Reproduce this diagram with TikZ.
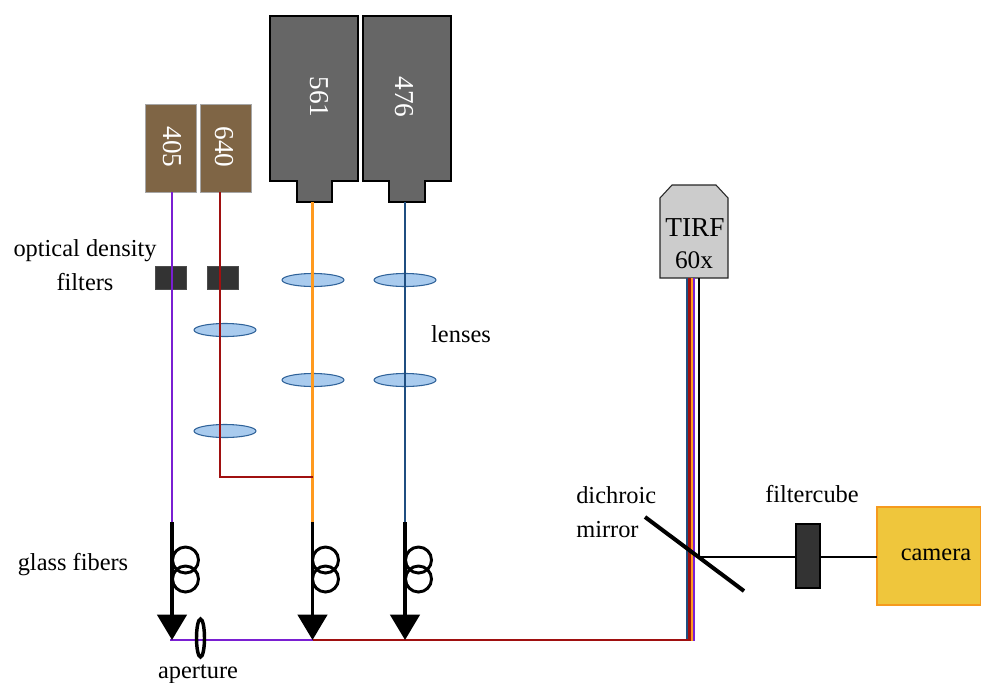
\documentclass[tikz,border=0pt]{standalone}
\usepackage{fontspec}
\setmainfont{Liberation Serif}
\usetikzlibrary{arrows.meta,shapes.geometric}
\definecolor{cviolet}{HTML}{7A1FD2}
\definecolor{cred}{HTML}{A01010}
\definecolor{corange}{HTML}{FF9A1E}
\definecolor{cblue}{HTML}{1F4E80}
\definecolor{cbrown}{HTML}{7F6545}
\definecolor{cgrey}{HTML}{666666}
\definecolor{clens}{HTML}{A9CBEE}
\definecolor{clensd}{HTML}{2F6299}
\definecolor{cgold}{HTML}{EFC63C}
\definecolor{cgoldd}{HTML}{F59A1E}
\tikzset{
  wh/.style 2 args={minimum width=#1*0.75pt,minimum height=#2*0.75pt,inner sep=0pt,outer sep=0pt},
  smallbox/.style={wh={51}{88},fill=cbrown,draw=gray!70,line width=.7pt},
  laser/.style={fill=cgrey,draw=black,line width=.8pt,line join=miter},
  filterbox/.style={wh={31}{23},fill=black!80,draw=black!70,line width=.6pt},
  lens/.style={ellipse,wh={62}{13},fill=clens,draw=clensd,line width=.8pt},
  lab/.style={font=\fontsize{18.3}{22}\selectfont,text=black,inner sep=0pt,anchor=base},
  wlab/.style={font=\fontsize{20.5}{24}\selectfont,text=white,inner sep=0pt,rotate=-90},
  beam/.style={line width=1.7pt},
  fiber/.style={line width=2.6pt,draw=black,-{Triangle[length=19pt,width=22pt]},shorten >=0pt},
  loopc/.style={circle,wh={26}{26},draw=black,line width=2.2pt},
  blk/.style={draw=black,line width=1.5pt},
}
\begin{document}
\begin{tikzpicture}[x=0.75pt,y=-0.75pt]
\useasboundingbox (0,0) rectangle (981,682);
% lasers
\node[smallbox] (b405) at (170.5,148) {};
\node[smallbox] (b640) at (225.5,148) {};
\draw[laser] (270,16) -- (358,16) -- (358,181) -- (332,181) -- (332,202) -- (297,202) -- (297,181) -- (270,181) -- cycle;
\draw[laser] (363,16) -- (451,16) -- (451,181) -- (425,181) -- (425,202) -- (389,202) -- (389,181) -- (363,181) -- cycle;
\node[wlab] (t405) at (172,147) {405};
\node[wlab] (t640) at (224,147) {640};
\node[wlab] (t561) at (319,97) {561};
\node[wlab] (t476) at (404,97) {476};
% filters and lenses
\node[filterbox] (f1) at (170.5,277.5) {};
\node[filterbox] (f2) at (222.5,277.5) {};
\node[lens] (l1) at (313,280) {};
\node[lens] (l2) at (405,280) {};
\node[lens] (l3) at (313,380) {};
\node[lens] (l4) at (405,380) {};
\node[lens] (l5) at (225,330) {};
\node[lens] (l6) at (225,431) {};
% coordinates
\coordinate (o405) at (172,192);
\coordinate (o640) at (220,192);
\coordinate (o561) at (312.5,202);
\coordinate (o476) at (405,202);
\coordinate (s405) at (172,522);
\coordinate (s561) at (312.5,522);
\coordinate (s476) at (405,522);
\coordinate (e405) at (172,640);
\coordinate (e561) at (312.5,640);
\coordinate (e476) at (405,640);
\coordinate (join) at (220,477);
\coordinate (join2) at (312.5,477);
% objective
\draw[fill=black!20,draw=black!85,line width=.8pt] (660,198) -- (672,185) -- (716,185) -- (728,198) -- (728,278) -- (660,278) -- cycle;
\coordinate (tb) at (687,278);
\coordinate (tr) at (689.3,278);
\coordinate (to) at (691.6,278);
\coordinate (tv) at (693.9,278);
\coordinate (tk) at (699,278);
\coordinate (vstart) at (170,640);
\coordinate (vcorner) at (693.9,640);
% beams
\draw[beam,draw=cviolet] (o405) -- (s405);
\draw[beam,draw=cviolet,line join=miter] (vstart) -- (vcorner) -- (tv);
\draw[beam,draw=corange] (o561) -- (s561);
\draw[beam,draw=corange,line join=miter] (e561) -| (to);
\draw[beam,draw=cblue] (o476) -- (s476);
\draw[beam,draw=cblue,line join=miter] (e476) -| (tb);
\draw[beam,draw=cred,line join=miter] (o640) -- (join) -- (join2);
\draw[draw=cred,line join=miter,line width=2.2pt] (e561) -| (tr);
% fibers
\draw[fiber] (s405) -- (e405);
\draw[fiber] (s561) -- (e561);
\draw[fiber] (s476) -- (e476);
\foreach \n/\x in {a/185.5,b/325.5,c/418.5}{
  \node[loopc] (\n1) at (\x,560) {};
  \node[loopc] (\n2) at (\x,579) {};
}
% aperture
\node[ellipse,wh={8}{38},draw=black,line width=2.6pt] (ap) at (200.5,638) {};
% camera path
\node[wh={24}{64},fill=black!80,draw=black,line width=.8pt] (fc) at (808,556) {};
\node[wh={104}{98},fill=cgold,draw=cgoldd,line width=.8pt,anchor=north west] (cam) at (877,507) {};
\coordinate (bend) at (699,557);
\draw[blk,line join=miter] (tk) -- (bend) -- (fc.west |- bend);
\draw[blk] (fc.east |- bend) -- (cam.west |- bend);
% mirror
\coordinate (m1) at (645,517);
\coordinate (m2) at (744,591);
\draw[line width=3pt,draw=black] (m1) -- (m2);
% labels
\node[lab] (n1) at (85,256) {optical density};
\node[lab] (n2) at (85,290) {filters};
\node[lab] (n3) at (461,342) {lenses};
\node[lab] (n4) at (73,570) {glass fibers};
\node[lab] (n5) at (198,678) {aperture};
\node[lab,anchor=base west] (n6) at (576,503) {dichroic};
\node[lab,anchor=base west] (n7) at (576,537) {mirror};
\node[lab] (n8) at (812,502) {filtercube};
\node[lab] (n9) at (936,560) {camera};
\node[lab,font=\fontsize{20.5}{24}\selectfont] (n10) at (695,236) {TIRF};
\node[lab,font=\fontsize{19}{22}\selectfont] (n11) at (694,268) {60x};
\end{tikzpicture}
\end{document}
